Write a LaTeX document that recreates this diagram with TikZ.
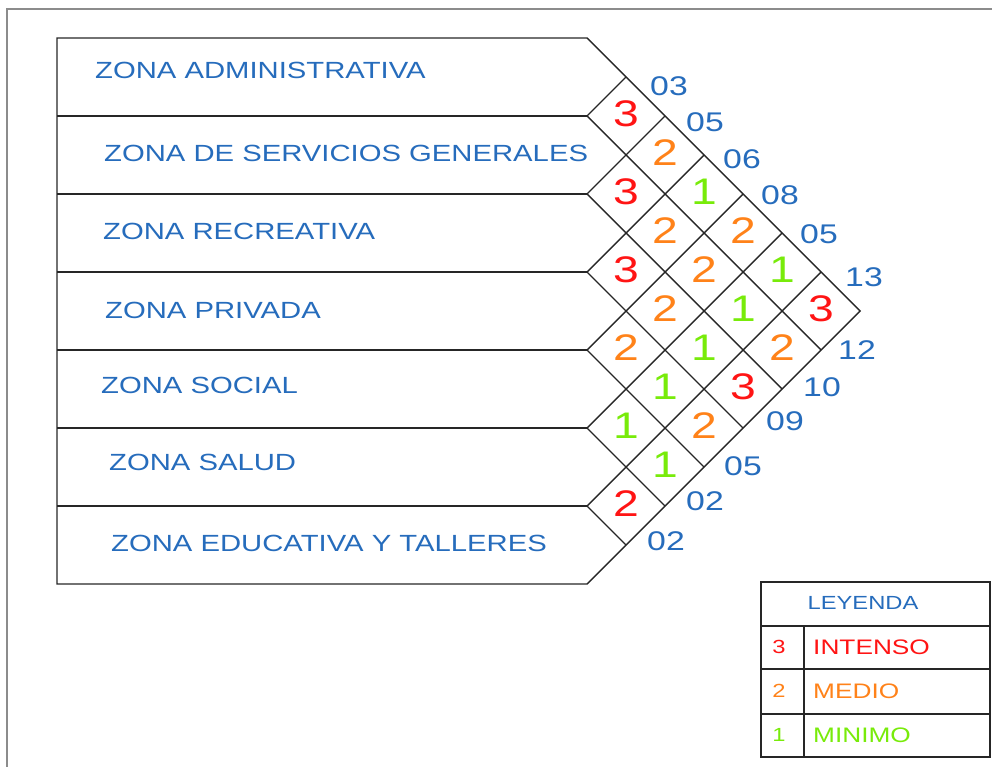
\documentclass[tikz,border=0pt]{standalone}
\usepackage{fontspec}
\newfontfamily\zf[FakeStretch=1.25]{Liberation Sans}
\definecolor{zblue}{RGB}{38,108,188}
\definecolor{zred}{RGB}{255,20,20}
\definecolor{zorange}{RGB}{255,130,25}
\definecolor{zgreen}{RGB}{120,235,10}
\tikzset{
  frameline/.style={draw=black!45, line width=1.6pt},
  gridline/.style={draw=black!85, line width=1.4pt},
  zonelabel/.style={font=\zf\fontsize{23.4}{23.4}\selectfont, text=zblue, anchor=west, inner sep=0pt},
  cellnum/.style={font=\zf\fontsize{37}{37}\selectfont, inner sep=0pt},
  sumnum/.style={font=\zf\fontsize{27}{27}\selectfont, text=zblue, inner sep=0pt},
  legtext/.style={font=\zf\fontsize{21}{21}\selectfont, anchor=west, inner sep=0pt},
  legnum/.style={font=\zf\fontsize{19}{19}\selectfont, inner sep=0pt}
}
\begin{document}
\begin{tikzpicture}[x=1pt,y=-1pt]
\useasboundingbox (0,0) rectangle (992,767);
% outer frame
\draw[frameline] (7,767) -- (7,9) -- (992,9);
% main outline
\coordinate (T) at (587,38);
\coordinate (B) at (587,584);
\coordinate (R) at (860,311);
\draw[gridline] (T) -- (57,38) -- (57,584) -- (B) -- (R) -- cycle;
\foreach \k in {1,...,6}{
  \coordinate (P\k) at (587,{38+78*\k});
  \coordinate (U\k) at ({587+39*\k},{38+39*\k});
  \coordinate (D\k) at ({860-39*\k},{311+39*\k});
  \draw[gridline] (57,{38+78*\k}) -- (P\k);
  \draw[gridline] (P\k) -- (U\k);
  \draw[gridline] (P\k) -- (D\k);
}
% zone labels
\node[zonelabel] (z1) at (95,70) {ZONA ADMINISTRATIVA};
\node[zonelabel] (z2) at (104,153) {ZONA DE SERVICIOS GENERALES};
\node[zonelabel] (z3) at (103,231) {ZONA RECREATIVA};
\node[zonelabel] (z4) at (105,310) {ZONA PRIVADA};
\node[zonelabel] (z5) at (101,385) {ZONA SOCIAL};
\node[zonelabel] (z6) at (109,462) {ZONA SALUD};
\node[zonelabel] (z7) at (111,543) {ZONA EDUCATIVA Y TALLERES};
% cell values
\foreach \i/\j/\v/\c in {1/2/3/zred, 2/3/3/zred, 3/4/3/zred, 4/5/2/zorange, 5/6/1/zgreen, 6/7/2/zred,
  1/3/2/zorange, 2/4/2/zorange, 3/5/2/zorange, 4/6/1/zgreen, 5/7/1/zgreen,
  1/4/1/zgreen, 2/5/2/zorange, 3/6/1/zgreen, 4/7/2/zorange,
  1/5/2/zorange, 2/6/1/zgreen, 3/7/3/zred,
  1/6/1/zgreen, 2/7/2/zorange,
  1/7/3/zred}{
  \node[cellnum, text=\c] (c\i\j) at ({587+39*(\j-\i)},{39*(\i+\j)-3}) {\v};
}
% sums upper edge
\node[sumnum] (s1) at (669,86) {03};
\node[sumnum] (s2) at (705,122) {05};
\node[sumnum] (s3) at (742,159) {06};
\node[sumnum] (s4) at (780,195) {08};
\node[sumnum] (s5) at (819,234) {05};
\node[sumnum] (s6) at (864,277) {13};
% sums lower edge
\node[sumnum] (t1) at (857,350) {12};
\node[sumnum] (t2) at (822,387) {10};
\node[sumnum] (t3) at (785,421) {09};
\node[sumnum] (t4) at (743,466) {05};
\node[sumnum] (t5) at (705,501) {02};
\node[sumnum] (t6) at (666,541) {02};
% legend
\draw[gridline] (761,582) rectangle (990,757);
\draw[gridline] (761,626) -- (990,626);
\draw[gridline] (761,669) -- (990,669);
\draw[gridline] (761,714) -- (990,714);
\draw[gridline] (804,626) -- (804,757);
\node[font=\zf\fontsize{19}{19}\selectfont, text=zblue, inner sep=0pt] (ley) at (863,603) {LEYENDA};
\node[legnum, text=zred] (l3) at (779,647) {3};
\node[legtext, text=zred] (i3) at (813,647) {INTENSO};
\node[legnum, text=zorange] (l2) at (779,691) {2};
\node[legtext, text=zorange] (i2) at (813,691) {MEDIO};
\node[legnum, text=zgreen] (l1) at (779,735) {1};
\node[legtext, text=zgreen] (i1) at (813,735) {MINIMO};
\end{tikzpicture}
\end{document}
